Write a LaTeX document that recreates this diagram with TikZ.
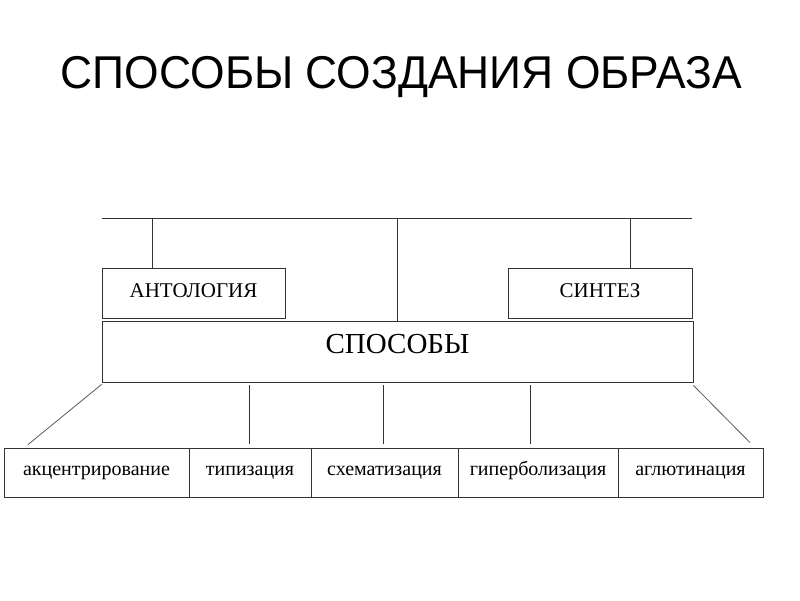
\documentclass[tikz,border=0pt]{standalone}
\usepackage{fontspec}
\setmainfont{Liberation Serif}
\newfontfamily\titlefont{Liberation Sans}
\begin{document}
\begin{tikzpicture}[x={(1pt,0pt)},y={(0pt,-1pt)},
  ln/.style={draw=black!80,line width=0.8pt},
  bx/.style={ln,inner sep=0pt,minimum height=#1},
  bx/.default=50pt,
  captxt/.style={font=\fontsize{21}{21}\selectfont,text height=14pt,text depth=6pt},
  lowtxt/.style={font=\fontsize{20}{20}\selectfont,text height=12pt,text depth=7pt}]
\useasboundingbox (0,0) rectangle (800,600);
\node[anchor=base,inner sep=0pt,xscale=0.965,font=\titlefont\fontsize{46}{46}\selectfont] (title) at (401.5,88) {СПОСОБЫ СОЗДАНИЯ ОБРАЗА};
\node[bx,captxt,minimum width=183pt] (ant) at (193.5,293) {АНТОЛОГИЯ};
\node[bx,captxt,minimum width=184pt] (sin) at (600,293) {СИНТЕЗ};
\node[bx=61pt,font=\fontsize{29}{29}\selectfont,text height=18pt,text depth=15pt,minimum width=591pt] (sp) at (397.5,351.5) {СПОСОБЫ};
\node[bx=49pt,lowtxt,minimum width=185pt] (b1) at (96.5,472.5) {акцентрирование};
\node[bx=49pt,lowtxt,minimum width=122pt] (b2) at (250,472.5) {типизация};
\node[bx=49pt,lowtxt,minimum width=147pt] (b3) at (384.5,472.5) {схематизация};
\node[bx=49pt,lowtxt,minimum width=160pt] (b4) at (538,472.5) {гиперболизация};
\node[bx=49pt,lowtxt,minimum width=145pt] (b5) at (690.5,472.5) {аглютинация};
\coordinate (tl) at (102,218);
\coordinate (tr) at (692,218);
\draw[ln] (tl) -- (tr);
\draw[ln] (ant.north -| 152,0) -- (tl -| 152,0);
\draw[ln] (sp.north -| 397,0) -- (tl -| 397,0);
\draw[ln] (sin.north -| 630,0) -- (tl -| 630,0);
\draw[ln,shorten >=4pt,shorten <=3pt] (sp.south -| 249,0) -- (b2.north -| 249,0);
\draw[ln,shorten >=4pt,shorten <=3pt] (sp.south -| 383,0) -- (b3.north -| 383,0);
\draw[ln,shorten >=4pt,shorten <=3pt] (sp.south -| 530,0) -- (b4.north -| 530,0);
\draw[ln,draw=black!65] ([yshift=-2pt]sp.south west) -- ([yshift=3pt]b1.north -| 28,0);
\draw[ln,draw=black!65] ([yshift=-3pt]sp.south east) -- ([yshift=5pt]b5.north -| 750,0);
\end{tikzpicture}
\end{document}
